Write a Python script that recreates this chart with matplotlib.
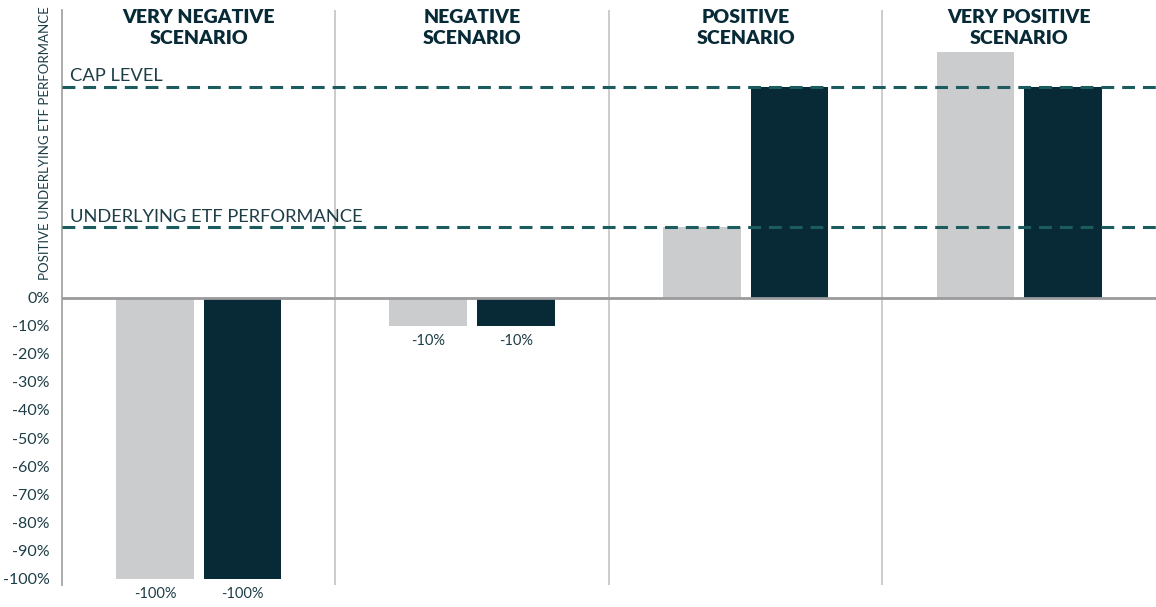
import matplotlib.pyplot as plt
import numpy as np

plt.rcParams['font.family'] = ['Lato', 'DejaVu Sans']

# data
scenarios = ["VERY NEGATIVE\nSCENARIO", "NEGATIVE\nSCENARIO", "POSITIVE\nSCENARIO", "VERY POSITIVE\nSCENARIO"]
etf_perf = [-100, -10, 25, 87.5]
fund_perf = [-100, -10, 75, 75]
cap_level = 75
etf_level = 25
yticks = [0, -10, -20, -30, -40, -50, -60, -70, -80, -90, -100]

grey = "#cbcccd"
navy = "#072a36"
teal = "#1c5c5e"
text_col = "#1d3d47"

fig = plt.figure(figsize=(11.56, 6.07), dpi=100)
ax = fig.add_axes([0.0536, 0.0362, 0.9464, 0.9473])

x = np.arange(len(scenarios))
w = 0.285
off = 0.16
ax.bar(x - off, etf_perf, w, color=grey, zorder=2)
ax.bar(x + off, fund_perf, w, color=navy, zorder=2)

# labels under the negative bars
for xi, a, b in zip(x, etf_perf, fund_perf):
    if a < 0:
        ax.text(xi - off, a - 3, f"{a:.0f}%", ha="center", va="top", fontsize=10.5, color=text_col)
    if b < 0:
        ax.text(xi + off, b - 3, f"{b:.0f}%", ha="center", va="top", fontsize=10.5, color=text_col)

# scenario separators
for s in x[:-1] + 0.5:
    ax.axvline(s, color="#c8c8c8", lw=1.3, zorder=1)

ax.axhline(0, color="#9b9b9d", lw=2, zorder=3)
ax.axhline(cap_level, color=teal, lw=2.2, dashes=(4.2, 2.6), zorder=4)
ax.axhline(etf_level, color=teal, lw=2.2, dashes=(4.2, 2.6), zorder=4)
ax.text(-0.47, cap_level + 0.8, "CAP LEVEL", fontsize=13.2, color=text_col, va="bottom")
ax.text(-0.47, etf_level + 0.8, "UNDERLYING ETF PERFORMANCE", fontsize=13.2, color=text_col, va="bottom")

for xi, name in zip(x, scenarios):
    ax.text(xi, 102.6, name, ha="center", va="top", fontsize=14, fontweight="heavy",
            color=navy, linespacing=1.3, clip_on=False)

ax.set_xlim(-0.5, 3.5)
ax.set_ylim(-102.3, 102.3)
ax.set_xticks([])
ax.set_yticks(yticks)
ax.set_yticklabels([f"{t}%" for t in yticks], fontsize=11.5, color=text_col)
ax.tick_params(axis="y", length=0, pad=9)

for side in ["top", "right", "bottom"]:
    ax.spines[side].set_visible(False)
ax.spines["left"].set_color("#a5a5a5")
ax.spines["left"].set_linewidth(1.3)

fig.text(0.039, 0.765, "POSITIVE UNDERLYING ETF PERFORMANCE", rotation=90, ha="center", va="center",
         fontsize=9.5, color=text_col)

fig.savefig("out.png", dpi=100)
